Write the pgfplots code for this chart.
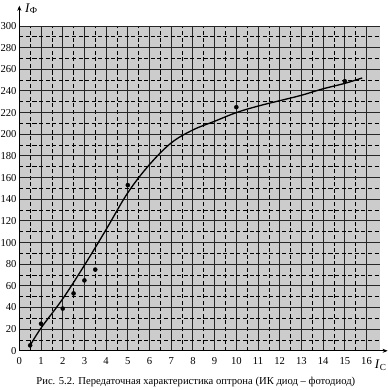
\documentclass[border=0pt]{standalone}
\usepackage{pgfplots}
\pgfplotsset{compat=1.18}
\usepackage{fontspec}
\setmainfont{Liberation Serif}
\usetikzlibrary{arrows.meta}
\begin{document}
\fontsize{10.5}{12}\selectfont
\begin{tikzpicture}
\begin{axis}[
  scale only axis, width=356pt, height=321pt,
  xmin=0, xmax=16.6, ymin=0, ymax=300,
  axis x line=bottom, axis y line=left,
  axis line style={line width=0.8pt, -{Stealth[length=5pt,width=4pt]}},
  x axis line style={shorten >=-8pt},
  y axis line style={shorten >=-20pt},
  xtick={0,1,...,16}, ytick={0,20,...,300},
  minor x tick num=1, minor y tick num=1,
  tick style={draw=none},
  grid=both,
  major grid style={black!85, line width=0.9pt},
  minor grid style={black, dash pattern=on 4pt off 2.5pt, line width=0.6pt},
  axis background/.style={fill=black!20},
  /pgf/number format/assume math mode=true,
  ticklabel style={font=\fontsize{10.5}{12}\selectfont},
  yticklabel style={inner sep=0.5pt},
  xticklabel style={yshift=-1pt},
  clip=false,
]
\addplot[black, line width=1.3pt, smooth, tension=0.6] coordinates {
(0.47,4) (1,21) (2,48) (3,79) (4,112) (5,146)
(6,172) (7,192) (8,204) (9,212) (10,220) (11,226)
(12,231) (13,236) (14,242) (15,247) (15.8,252)
};
\addplot[only marks, mark=*, mark size=2pt, black] coordinates {
(0.5,5) (1,25) (2,39) (2.5,53) (3,65) (3.5,75) (5,153) (10,225) (15,249)
};
\node[anchor=west, font=\fontsize{13}{14}\selectfont] at (rel axis cs:0,1) [xshift=2pt, yshift=17pt] {\textit{I}\textsubscript{Ф}};
\node[anchor=west, inner sep=0.5pt, font=\fontsize{13}{14}\selectfont] at (rel axis cs:0.985,0) [yshift=-14pt] {\textit{I}\textsubscript{С}};
\node[anchor=base] at (rel axis cs:0.49,0) [yshift=-33pt] {Рис. 5.2. Передаточная характеристика оптрона (ИК диод – фотодиод)};
\end{axis}
\end{tikzpicture}
\end{document}
